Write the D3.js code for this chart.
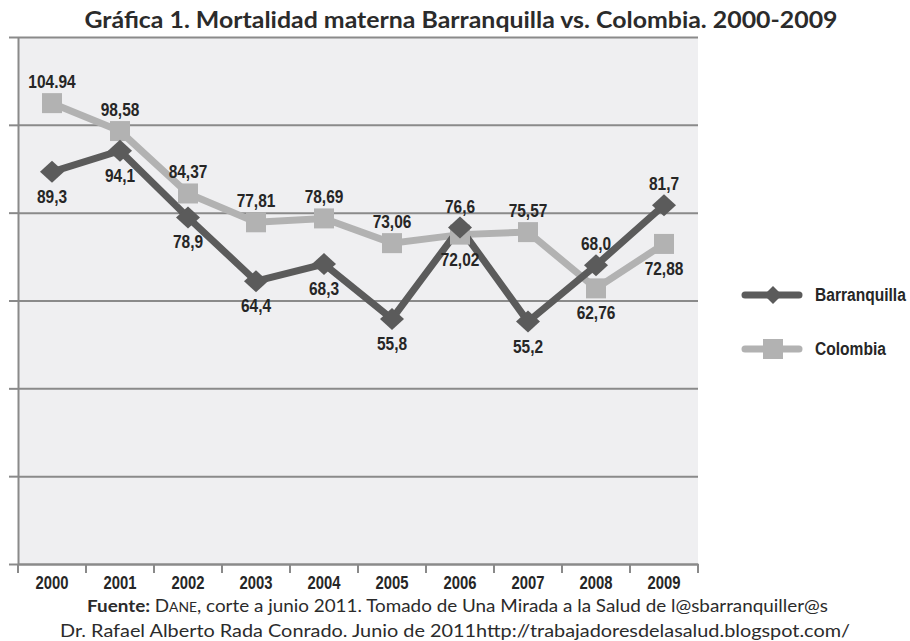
<!DOCTYPE html>
<html lang="es">
<head>
  <meta charset="UTF-8">
  <title>Mortalidad materna</title>
  <style>
    body {
      margin: 0;
      padding: 0;
      background: #fff;
    }
    .title {
      font-family: Lato, "Open Sans", sans-serif;
      font-weight: bold;
      font-size: 23px;
      fill: #2b2b2b;
    }
    .lbl, .year, .legend-text {
      font-family: "Liberation Sans", Arial, sans-serif;
      font-weight: bold;
      fill: #262626;
    }
    .src {
      font-family: Lato, "Open Sans", sans-serif;
      font-size: 17px;
      fill: #2b2b2b;
    }
  </style>
</head>
<body>
  <svg id="chart" width="910" height="641"></svg>
  <script src="https://d3js.org/d3.v7.min.js"></script>
  <script>
    const years = ['2000', '2001', '2002', '2003', '2004', '2005', '2006', '2007', '2008', '2009'];
    const barranquilla = [89.3, 94.1, 78.9, 64.4, 68.3, 55.8, 76.6, 55.2, 68.0, 81.7];
    const colombia = [104.94, 98.58, 84.37, 77.81, 78.69, 73.06, 75.0, 75.57, 62.76, 72.88];
    const barranquillaLabels = ['89,3', '94,1', '78,9', '64,4', '68,3', '55,8', '76,6', '55,2', '68,0', '81,7'];
    const colombiaLabels = ['104.94', '98,58', '84,37', '77,81', '78,69', '73,06', '72,02', '75,57', '62,76', '72,88'];
    const yTicks = [0, 20, 40, 60, 80, 100, 120];

    const svg = d3.select('#chart');

    const x = d3.scaleBand().domain(years).range([18, 698]);
    const y = d3.scaleLinear().domain([0, 120]).range([564, 37]);
    const cx = d => x(d) + x.bandwidth() / 2;

    const darkColor = '#5b5b5b';
    const lightColor = '#b2b2b2';
    const narrow = 0.86;

    // Title
    svg.append('text')
      .attr('class', 'title')
      .attr('x', 461)
      .attr('y', 28)
      .attr('text-anchor', 'middle')
      .attr('textLength', 753)
      .attr('lengthAdjust', 'spacingAndGlyphs')
      .text('Gráfica 1. Mortalidad materna Barranquilla vs. Colombia. 2000-2009');

    // plot background
    svg.append('rect')
      .attr('x', x.range()[0])
      .attr('y', y(120))
      .attr('width', x.range()[1] - x.range()[0])
      .attr('height', y(0) - y(120))
      .attr('fill', '#efeff1');

    // gridlines
    svg.append('g')
      .attr('transform', `translate(${x.range()[0]},0)`)
      .call(d3.axisLeft(y).tickValues(yTicks).tickSize(-(x.range()[1] - x.range()[0])).tickFormat(''))
      .call(g => g.select('.domain').remove())
      .call(g => g.selectAll('line').attr('stroke', '#8a8a8a').attr('stroke-width', 2));

    // left axis with outer ticks
    svg.append('g')
      .attr('transform', `translate(${x.range()[0]},0)`)
      .call(d3.axisLeft(y).tickValues(yTicks).tickSize(9).tickSizeOuter(0).tickFormat(''))
      .call(g => g.select('.domain').attr('stroke', '#8a8a8a').attr('stroke-width', 2))
      .call(g => g.selectAll('line').attr('stroke', '#8a8a8a').attr('stroke-width', 2));

    // bottom axis
    const xAxis = svg.append('g')
      .attr('transform', `translate(0,${y(0)})`)
      .call(d3.axisBottom(x).tickSize(0).tickSizeOuter(0).tickPadding(0));
    xAxis.select('.domain').attr('stroke', '#8a8a8a').attr('stroke-width', 2);
    xAxis.selectAll('text')
      .attr('class', 'year')
      .attr('dy', null)
      .attr('y', 25)
      .attr('transform', 'scale(0.78,1)')
      .style('font-size', '19px')
      .attr('fill', '#262626');

    // boundary ticks
    const bounds = years.map(d => x(d)).concat([x.range()[1]]);
    svg.append('g')
      .selectAll('line')
      .data(bounds)
      .enter()
      .append('line')
      .attr('x1', d => d)
      .attr('x2', d => d)
      .attr('y1', y(0))
      .attr('y2', y(0) + 9)
      .attr('stroke', '#8a8a8a')
      .attr('stroke-width', 2);

    const line = d3.line()
      .x((d, i) => cx(years[i]))
      .y(d => y(d));

    // Colombia line
    svg.append('path')
      .datum(colombia)
      .attr('d', line)
      .attr('fill', 'none')
      .attr('stroke', lightColor)
      .attr('stroke-width', 7);

    // Barranquilla line
    svg.append('path')
      .datum(barranquilla)
      .attr('d', line)
      .attr('fill', 'none')
      .attr('stroke', darkColor)
      .attr('stroke-width', 7);

    // Colombia squares
    svg.selectAll('.sq')
      .data(colombia)
      .enter()
      .append('rect')
      .attr('class', 'sq')
      .attr('x', (d, i) => cx(years[i]) - 10)
      .attr('y', d => y(d) - 10)
      .attr('width', 20)
      .attr('height', 20)
      .attr('fill', lightColor);

    // Barranquilla diamonds
    const diamond = 'M0,-11L12,0L0,11L-12,0Z';
    svg.selectAll('.dm')
      .data(barranquilla)
      .enter()
      .append('path')
      .attr('class', 'dm')
      .attr('d', diamond)
      .attr('transform', (d, i) => `translate(${cx(years[i])},${y(d)})`)
      .attr('fill', darkColor);

    // data labels: the higher series goes above, the lower below
    function labelY(v, other) {
      return v >= other ? y(v) - 15 : y(v) + 31;
    }

    svg.selectAll('.lc')
      .data(colombia)
      .enter()
      .append('text')
      .attr('class', 'lbl')
      .attr('transform', (d, i) => `translate(${cx(years[i])},${labelY(d, barranquilla[i])}) scale(${narrow},1)`)
      .attr('text-anchor', 'middle')
      .style('font-size', '18px')
      .text((d, i) => colombiaLabels[i]);

    svg.selectAll('.lb')
      .data(barranquilla)
      .enter()
      .append('text')
      .attr('class', 'lbl')
      .attr('transform', (d, i) => `translate(${cx(years[i])},${labelY(d, colombia[i])}) scale(${narrow},1)`)
      .attr('text-anchor', 'middle')
      .style('font-size', '18px')
      .text((d, i) => barranquillaLabels[i]);

    // Legend
    const legend = [
      { name: 'Barranquilla', color: darkColor, y: 295, shape: 'diamond' },
      { name: 'Colombia', color: lightColor, y: 349, shape: 'square' }
    ];
    const lg = svg.append('g')
      .selectAll('g')
      .data(legend)
      .enter()
      .append('g')
      .attr('transform', d => `translate(0,${d.y})`);
    lg.append('line')
      .attr('x1', 745)
      .attr('x2', 799)
      .attr('stroke', d => d.color)
      .attr('stroke-width', 7)
      .attr('stroke-linecap', 'round');
    lg.filter(d => d.shape === 'diamond')
      .append('path')
      .attr('d', 'M0,-9L9,0L0,9L-9,0Z')
      .attr('transform', 'translate(773,0)')
      .attr('fill', d => d.color);
    lg.filter(d => d.shape === 'square')
      .append('rect')
      .attr('x', 763)
      .attr('y', -10)
      .attr('width', 20)
      .attr('height', 20)
      .attr('fill', d => d.color);
    lg.append('text')
      .attr('class', 'legend-text')
      .attr('transform', 'translate(815,6) scale(0.82,1)')
      .style('font-size', '19px')
      .text(d => d.name);

    // Source lines
    const src1 = svg.append('text')
      .attr('class', 'src')
      .attr('x', 457.5)
      .attr('y', 612)
      .attr('text-anchor', 'middle')
      .attr('textLength', 741)
      .attr('lengthAdjust', 'spacingAndGlyphs');
    src1.append('tspan').attr('font-weight', 'bold').text('Fuente: ');
    src1.append('tspan').text('D');
    src1.append('tspan').style('font-size', '12.5px').text('ANE');
    src1.append('tspan').text(', corte a junio 2011. Tomado de Una Mirada a la Salud de l@sbarranquiller@s');

    svg.append('text')
      .attr('class', 'src')
      .attr('x', 455)
      .attr('y', 637)
      .attr('text-anchor', 'middle')
      .attr('textLength', 790)
      .attr('lengthAdjust', 'spacingAndGlyphs')
      .text('Dr. Rafael Alberto Rada Conrado. Junio de 2011http://trabajadoresdelasalud.blogspot.com/');
  </script>
</body>
</html>
